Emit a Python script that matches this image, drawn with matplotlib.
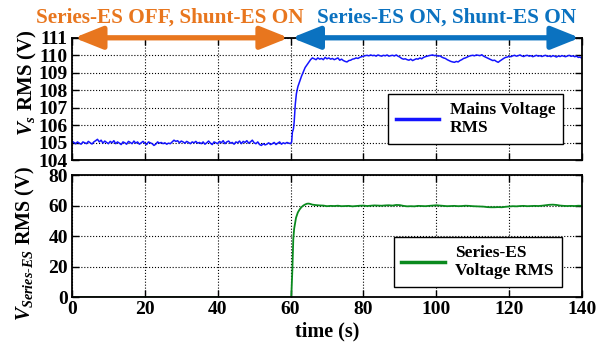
import numpy as np
import matplotlib

matplotlib.use("Agg")
matplotlib.rcParams['font.family'] = 'Liberation Serif'
matplotlib.rcParams['font.weight'] = 'bold'
matplotlib.rcParams['axes.labelweight'] = 'bold'
matplotlib.rcParams['font.size'] = 14
matplotlib.rcParams['mathtext.fontset'] = 'custom'
matplotlib.rcParams['mathtext.rm'] = 'Liberation Serif:bold'
matplotlib.rcParams['mathtext.it'] = 'Liberation Serif:italic:bold'
matplotlib.rcParams['mathtext.bf'] = 'Liberation Serif:bold'

import matplotlib.pyplot as plt

# --- mains voltage RMS (V), sampled every 0.5 s before and after the step
vs_before = [
    105.10, 105.02, 104.95, 105.05, 104.98, 104.92, 105.05, 105.00, 104.95, 105.08,
    105.00, 104.93, 105.05, 105.12, 105.20, 105.05, 105.15, 104.98, 105.10, 105.02,
    104.95, 105.08, 105.00, 105.12, 104.95, 105.05, 104.98, 104.90, 105.05, 105.00,
    104.92, 105.08, 105.02, 104.95, 105.10, 104.98, 105.05, 104.92, 105.00, 105.08,
    104.98, 104.90, 105.05, 105.00, 104.95, 104.85, 104.92, 105.05, 104.98, 105.02,
    104.95, 105.00, 104.92, 104.98, 104.95, 105.05, 105.15, 105.08, 105.12, 105.00,
    105.10, 105.05, 104.98, 105.08, 105.02, 104.95, 105.05, 105.00, 105.08, 104.98,
    105.02, 104.95, 105.05, 104.92, 105.00, 105.10, 104.98, 104.90, 105.05, 105.00,
    104.95, 105.08, 105.00, 105.12, 104.95, 105.05, 105.10, 104.98, 105.02, 104.92,
    105.05, 105.00, 105.10, 104.95, 105.08, 105.02, 105.12, 104.98, 105.05, 105.15,
    105.00, 104.95, 105.05, 104.90, 104.85, 104.95, 104.88, 104.92, 105.00, 104.90,
    104.95, 105.02, 104.90, 104.98, 105.05, 104.92, 105.00, 104.95, 105.02, 104.98,
    104.95]
t_step_vs = [60.3, 60.5, 60.8, 61.0, 61.3, 61.6, 62.0, 62.5, 63.0, 63.5,
             64.0, 64.5, 65.0, 65.5]
vs_step = [105.05, 105.6, 105.8, 106.2, 107.2, 107.8, 108.2, 108.5, 108.8, 109.05,
           109.3, 109.45, 109.6, 109.75]
vs_after = [
    109.85, 109.80, 109.75, 109.85, 109.78, 109.82, 109.75, 109.88, 109.80, 109.85,
    109.78, 109.82, 109.75, 109.80, 109.85, 109.72, 109.78, 109.70, 109.65, 109.62,
    109.70, 109.72, 109.78, 109.80, 109.85, 109.82, 109.88, 109.92, 109.95, 109.98,
    110.00, 109.97, 110.02, 109.98, 110.00, 109.95, 110.02, 109.98, 109.95, 110.00,
    109.97, 110.02, 109.95, 109.98, 110.00, 109.96, 110.02, 109.95, 109.90, 109.82,
    109.78, 109.80, 109.75, 109.72, 109.78, 109.70, 109.75, 109.80, 109.78, 109.85,
    109.80, 109.88, 109.92, 109.95, 109.98, 110.00, 110.02, 109.98, 110.00, 109.95,
    109.97, 109.90, 109.85, 109.82, 109.75, 109.70, 109.65, 109.62, 109.60, 109.65,
    109.62, 109.70, 109.75, 109.82, 109.85, 109.90, 109.95, 109.98, 110.00, 109.97,
    110.02, 110.00, 109.98, 110.03, 109.95, 109.90, 109.85, 109.80, 109.75, 109.70,
    109.72, 109.65, 109.60, 109.68, 109.75, 109.82, 109.88, 109.90, 109.95, 109.92,
    109.97, 110.00, 109.95, 109.98, 110.02, 109.96, 109.93, 109.98, 110.00, 109.95,
    109.98, 109.92, 109.96, 110.00, 109.95, 109.98, 109.93, 109.97, 110.00, 109.94,
    109.96, 109.92, 109.98, 109.95, 109.90, 109.96, 109.93, 109.98, 109.95, 109.92,
    109.96, 110.00, 109.94, 109.97, 109.92, 109.95, 109.88, 109.90, 109.82]

t_vs = np.concatenate([np.arange(0, 60.25, 0.5), t_step_vs,
                       np.arange(66, 140.25, 0.5)])
vs = np.concatenate([vs_before, vs_step, vs_after])

# --- series-ES voltage RMS (V)
t_ses_step = [0.0, 60.2, 60.5, 60.75, 61.0, 61.5, 62.0, 62.5, 63.0, 63.5,
              64.0, 64.5, 65.0, 65.5, 66.0, 67.0]
ses_step = [0.0, 0.0, 18.0, 38.0, 45.0, 52.0, 55.5, 57.5, 59.0, 60.0,
            60.7, 61.2, 61.3, 61.0, 60.6, 60.3]
ses_after = [
    60.1, 60.0, 59.6, 59.8, 59.7, 59.9, 59.6, 59.7, 59.8, 59.5,
    59.7, 59.9, 60.0, 59.7, 59.9, 60.1, 60.0, 59.9, 60.1, 60.2,
    60.0, 60.4, 60.3, 59.8, 59.5, 59.6, 59.5, 59.8, 59.7, 59.6,
    59.8, 60.0, 60.2, 60.0, 59.8, 59.6, 59.7, 59.8, 59.6, 59.7,
    59.9, 59.8, 59.6, 59.5, 59.4, 59.3, 59.0, 58.9, 58.9, 59.0,
    58.9, 59.2, 59.4, 59.6, 59.5, 59.7, 59.8, 59.6, 59.7, 59.8,
    59.7, 59.9, 60.2, 60.5, 60.6, 60.4, 60.0, 59.8, 59.7, 59.8,
    59.7, 59.9, 59.8]
t_ses = np.concatenate([t_ses_step, np.arange(68, 141, 1.0)])
v_ses = np.concatenate([ses_step, ses_after])

orange = '#E8761E'
blue = '#0B72C0'

fig = plt.figure(figsize=(6.11, 3.5), dpi=100)
ax1 = fig.add_axes([0.1178, 0.542, 0.8347, 0.350])
ax2 = fig.add_axes([0.1178, 0.1506, 0.8347, 0.3494])

ax1.plot(t_vs, vs, color='#1414ff', linewidth=1.1, label='Mains Voltage\nRMS')
ax2.plot(t_ses, v_ses, color='#0a8a1e', linewidth=1.3,
         label='Series-ES\nVoltage RMS')

for ax in (ax1, ax2):
    ax.set_xlim(0, 140)
    ax.set_xticks(range(0, 141, 20))
    ax.grid(True, linestyle=':', color='black', linewidth=0.8)
    ax.tick_params(direction='in', length=5, width=1, top=True, right=True,
                   labelsize=14, pad=3)
    for s in ax.spines.values():
        s.set_linewidth(1.3)

ax1.set_ylim(104, 111)
ax1.set_yticks(range(104, 112))
ax1.tick_params(labelbottom=False)
ax2.set_ylim(0, 80)
ax2.set_yticks(range(0, 81, 20))
ax2.set_xlabel('time (s)', fontsize=14.5, labelpad=2)

leg_kw = dict(fontsize=12.5, frameon=True, fancybox=False, edgecolor='black',
              handlelength=2.5, handletextpad=0.6, borderaxespad=0,
              borderpad=0.45, framealpha=1)
l1 = ax1.legend(loc='lower right', bbox_to_anchor=(0.963, 0.132), **leg_kw)
l2 = ax2.legend(loc='lower right', bbox_to_anchor=(0.960, 0.084), **leg_kw)
for l in (l1, l2):
    l.get_frame().set_linewidth(1.0)
    for h in l.get_lines():
        h.set_linewidth(2.5)

# operating-mode arrows along the top edge
arrow_kw = dict(arrowstyle='<|-|>,head_length=0.85,head_width=0.34',
                mutation_scale=20, linewidth=3.8, shrinkA=0, shrinkB=0)
ax1.annotate('', xy=(0.6, 111), xytext=(59.5, 111), annotation_clip=False,
             arrowprops=dict(color=orange, **arrow_kw))
ax1.annotate('', xy=(60.3, 111), xytext=(139.4, 111), annotation_clip=False,
             arrowprops=dict(color=blue, **arrow_kw))

fig.text(170 / 611, 1 - 18 / 350, 'Series-ES OFF, Shunt-ES ON', color=orange,
         fontsize=15.3, ha='center', va='center')
fig.text(447 / 611, 1 - 18 / 350, 'Series-ES ON, Shunt-ES ON', color=blue,
         fontsize=15.3, ha='center', va='center')

fig.text(27 / 611, 1 - 83 / 350, r'$V_s$ RMS (V)', rotation=90,
         fontsize=15, ha='center', va='center')
fig.text(25 / 611, 1 - 244 / 350, r'$V_{Series\text{-}ES}$ RMS (V)',
         rotation=90, fontsize=14.5, ha='center', va='center')

fig.savefig('out.png', dpi=100)
